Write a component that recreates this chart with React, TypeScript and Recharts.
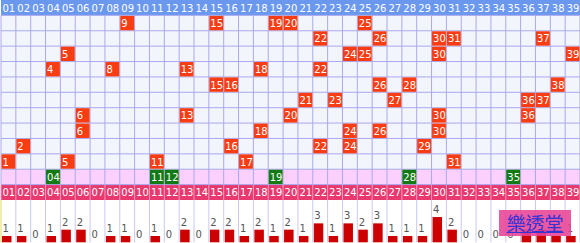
import React from 'react';
import {
  ScatterChart, Scatter, XAxis, YAxis, ReferenceArea, ReferenceLine,
  BarChart, Bar, LabelList,
} from 'recharts';

// Ball numbers shown in the column headers
const BALLS = [
  '01', '02', '03', '04', '05', '06', '07', '08', '09', '10',
  '11', '12', '13', '14', '15', '16', '17', '18', '19', '20',
  '21', '22', '23', '24', '25', '26', '27', '28', '29', '30',
  '31', '32', '33', '34', '35', '36', '37', '38', '39',
];

// Each draw, oldest at the top
const DRAW_1 = [9, 15, 19, 20, 25];
const DRAW_2 = [22, 26, 30, 31, 37];
const DRAW_3 = [5, 24, 25, 30, 39];
const DRAW_4 = [4, 8, 13, 18, 22];
const DRAW_5 = [15, 16, 26, 28, 38];
const DRAW_6 = [21, 23, 27, 36, 37];
const DRAW_7 = [6, 13, 20, 30, 36];
const DRAW_8 = [6, 18, 24, 26, 30];
const DRAW_9 = [2, 16, 22, 24, 29];
const DRAW_10 = [1, 5, 11, 17, 31];
const DRAWS = [DRAW_1, DRAW_2, DRAW_3, DRAW_4, DRAW_5, DRAW_6, DRAW_7, DRAW_8, DRAW_9, DRAW_10];

// Numbers highlighted in the pink row
const HIGHLIGHT = [4, 11, 12, 19, 28, 35];

// How many times each ball came out over the ten draws
const COUNTS = [
  1, 1, 0, 1, 2, 2, 0, 1, 1, 0,
  1, 0, 2, 0, 2, 2, 1, 2, 1, 2,
  1, 3, 1, 3, 2, 3, 1, 1, 1, 4,
  2, 0, 0, 0, 0, 2, 2, 1, 1,
];

const W = 580;
const GRID_H = 200;
const ROWS = 13;
const LEFT = 1;
const CW = (W - LEFT) / BALLS.length;
const RH = GRID_H / ROWS;
const FONT = '"DejaVu Sans", Verdana, sans-serif';
const FS = 10;

const headTop = BALLS.map((b, i) => ({ x: i + 1, y: 0.5, label: b }));
const headBottom = BALLS.map((b, i) => ({ x: i + 1, y: 12.5, label: b }));
const drawCells = DRAWS.flatMap((row, r) => row.map(n => ({ x: n, y: r + 1.5, label: String(n) })));
const hiCells = HIGHLIGHT.map(n => ({ x: n, y: 11.5, label: BALLS[n - 1] }));
const barData = BALLS.map((b, i) => ({ x: i + 1, count: COUNTS[i] }));

const cols = [...BALLS.map((_, i) => i + 0.5), BALLS.length + 0.5];
const rowLines = [1, 2, 3, 4, 5, 6, 7, 8, 9, 10, 11, 12];

const HeadText = (props: any) => {
  const { cx, cy, payload } = props;
  return (
    <text x={cx - CW / 2 + 1.5} y={cy + 4} fill="#ffffff" fontSize={FS} fontFamily={FONT}>
      {payload.label}
    </text>
  );
};

const makeCell = (fill: string) => (props: any) => {
  const { cx, cy, payload } = props;
  return (
    <g>
      <rect x={cx - CW / 2 + 0.5} y={cy - RH / 2 + 0.5} width={CW - 1} height={RH - 1} fill={fill} />
      <text x={cx - CW / 2 + 1.5} y={cy + 4} fill="#ffffff" fontSize={FS} fontFamily={FONT}>
        {payload.label}
      </text>
    </g>
  );
};

const RedCell = makeCell('#f93c12');
const GreenCell = makeCell('#137a13');

const LeftBar = (props: any) => {
  const { x, y, width, height } = props;
  if (!height || height <= 0) return null;
  return <rect x={x - 2} y={y} width={width} height={height} fill="#cc0000" />;
};

const CountLabel = (props: any) => {
  const { x, y, value } = props;
  return (
    <text x={x - 1.5} y={y - 4} fill="#555555" fontSize={FS} fontFamily={FONT}>
      {value}
    </text>
  );
};

export default function App(): React.JSX.Element {
  return (
    <div style={{ position: 'absolute', left: 0, top: 0, width: W, height: 243, background: '#ffffff', overflow: 'hidden' }}>
      <ScatterChart width={W} height={GRID_H} margin={{ top: 0, right: 0, bottom: 0, left: LEFT }}>
        <XAxis type="number" dataKey="x" domain={[0.5, 39.5]} hide />
        <YAxis type="number" dataKey="y" domain={[0, ROWS]} reversed hide />

        {/* bands: header, draw rows, highlight row, footer header */}
        <ReferenceArea y1={0} y2={1} fill="#6b98ef" fillOpacity={1} strokeWidth={0} />
        <ReferenceArea y1={1} y2={11} fill="#f3f5fc" fillOpacity={1} strokeWidth={0} />
        <ReferenceArea y1={11} y2={12} fill="#fcd0fc" fillOpacity={1} strokeWidth={0} />
        <ReferenceArea y1={12} y2={13} fill="#e8386e" fillOpacity={1} strokeWidth={0} />

        {rowLines.map(r => (
          <ReferenceLine key={`h${r}`} y={r} stroke="#a9a9ee" strokeWidth={1} />
        ))}
        {cols.map(c => (
          <ReferenceLine key={`v${c}`} segment={[{ x: c, y: 1 }, { x: c, y: 12 }]} stroke="#a9a9ee" strokeWidth={1} />
        ))}
        {cols.map(c => (
          <ReferenceLine key={`f${c}`} segment={[{ x: c, y: 12 }, { x: c, y: 13 }]} stroke="#f29ac4" strokeWidth={1} />
        ))}

        <Scatter data={headTop} shape={HeadText} isAnimationActive={false} />
        <Scatter data={headBottom} shape={HeadText} isAnimationActive={false} />
        <Scatter data={drawCells} shape={RedCell} isAnimationActive={false} />
        <Scatter data={hiCells} shape={GreenCell} isAnimationActive={false} />
      </ScatterChart>

      <BarChart width={W} height={43} data={barData} margin={{ top: 0, right: 0, bottom: 0.7, left: LEFT }}>
        <XAxis type="number" dataKey="x" domain={[0.5, 39.5]} hide />
        <YAxis type="number" domain={[0, 6.7]} hide />
        {cols.map(c => (
          <ReferenceLine key={`b${c}`} x={c} stroke={c === 0.5 ? '#e6dc5a' : '#c8c8f2'} strokeWidth={1} />
        ))}
        <Bar dataKey="count" barSize={9.5} shape={LeftBar} isAnimationActive={false}>
          <LabelList dataKey="count" content={CountLabel} />
        </Bar>
      </BarChart>

      <div
        style={{
          position: 'absolute', left: 499, top: 210, width: 72, height: 26,
          background: 'rgba(232, 66, 150, 0.88)', color: '#3434d4',
          fontFamily: '"Noto Sans CJK TC", sans-serif', fontSize: 19, lineHeight: '26px',
          textAlign: 'center', textDecoration: 'underline',
        }}
      >
        樂透堂
      </div>
    </div>
  );
}
